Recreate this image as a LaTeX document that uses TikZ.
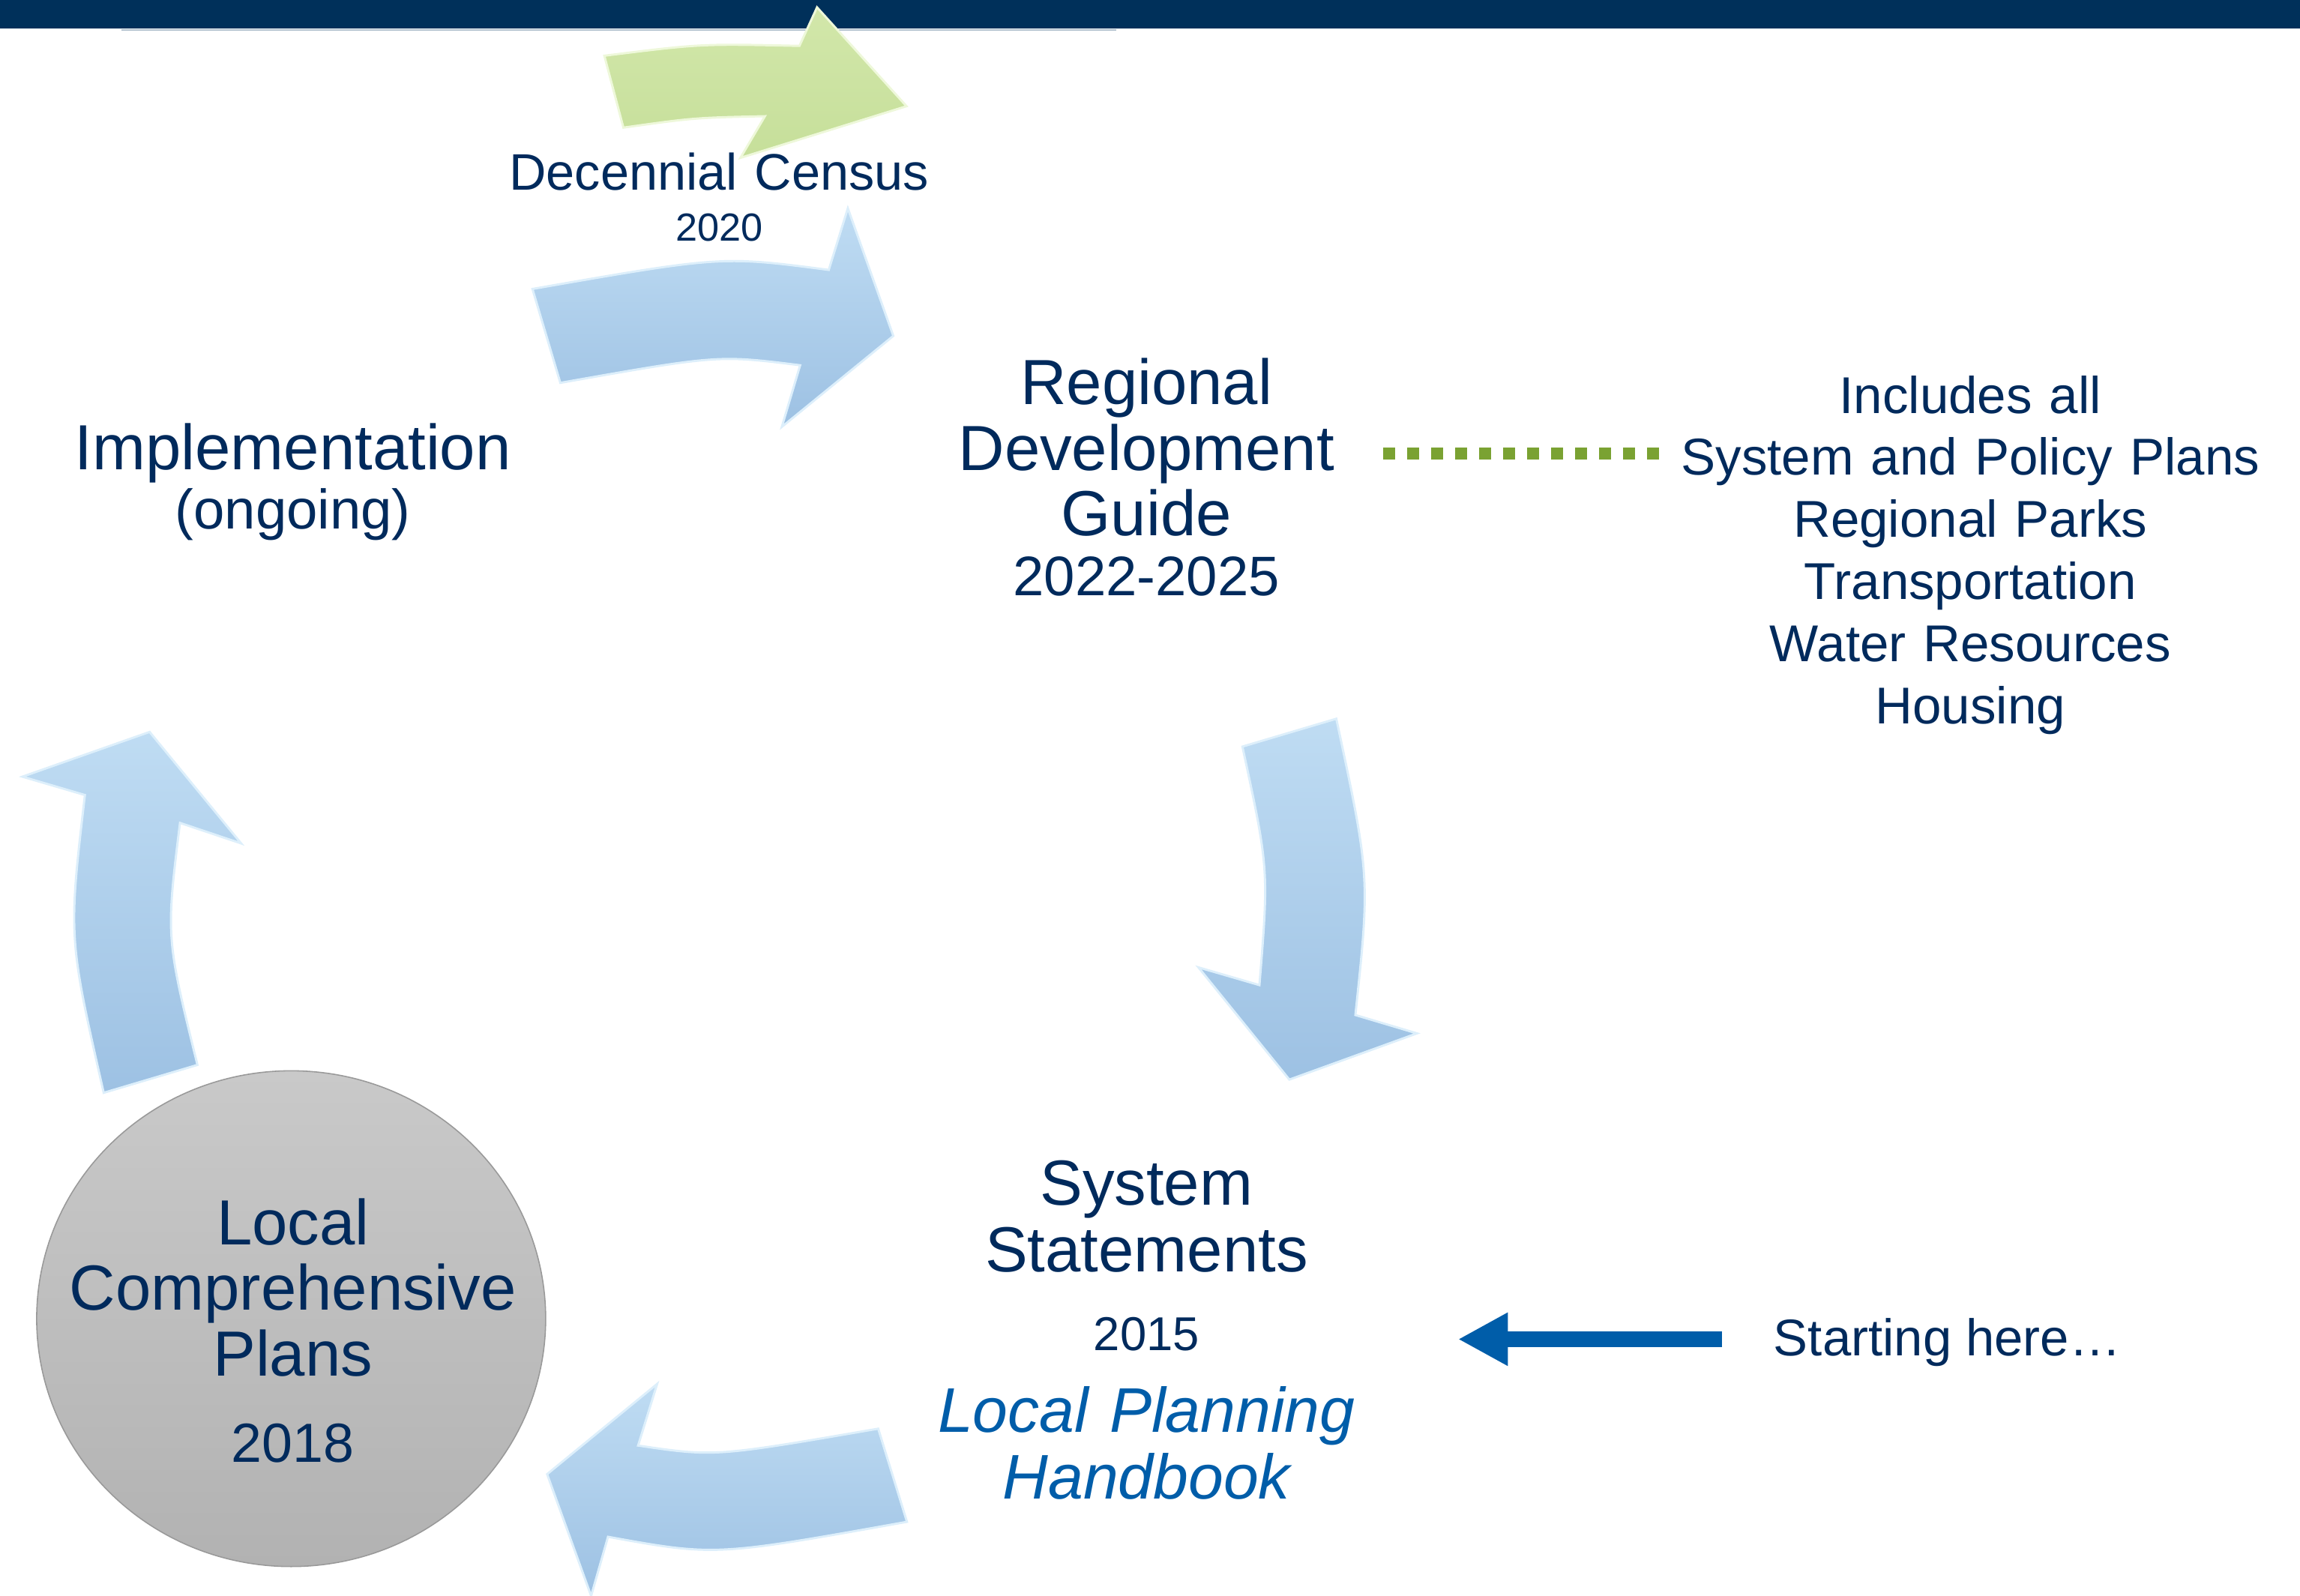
\documentclass[tikz,border=0pt]{standalone}
\usepackage{fontspec}
\setmainfont{Liberation Sans}
\usetikzlibrary{arrows.meta}
\definecolor{barra}{HTML}{00305A}
\definecolor{azulescuro}{HTML}{002A5C}
\definecolor{azulmedio}{HTML}{005DA9}
\definecolor{verdeponto}{HTML}{7AA232}
\definecolor{setaclara}{HTML}{BFDCF3}
\definecolor{setaescura}{HTML}{9DC1E3}
\definecolor{setaborda}{HTML}{DDEFFB}
\definecolor{verdeclaro}{HTML}{D2E7AA}
\definecolor{verdemedio}{HTML}{C6DF9A}
\definecolor{verdeborda}{HTML}{EEF8DA}
\definecolor{cinzaclaro}{HTML}{C9C9C9}
\definecolor{cinzaescuro}{HTML}{B2B2B2}
\definecolor{cinzaborda}{HTML}{999999}
\begin{document}
\begin{tikzpicture}[x=1pt, y=-1pt,
		setaciclo/.style={top color=setaclara, bottom color=setaescura, draw=setaborda, line width=1.5pt},
		setacenso/.style={top color=verdeclaro, bottom color=verdemedio, draw=verdeborda, line width=1.5pt},
		texto/.style={text=azulescuro, inner sep=0pt, align=center, text width=420pt, anchor=base},
		pontilhado/.style={verdeponto, line width=8.2pt, dash pattern=on 8.2pt off 8.15pt},
		setainicio/.style={azulmedio, line width=11pt, -{Triangle[length=34pt, width=34pt]}}] %Estilos do desenho
					%Fundo e barra
				\useasboundingbox (0,0) rectangle (1568,1088);
				\fill[white] (0,0) rectangle (1568,1088);
				\fill[barra] (0,0) rectangle (1568,19.6);
				\draw[barra!30, line width=1.2pt] (83,20.6) -- (761,20.6);
					%Setas do ciclo
				\path[setaciclo] (363,197) .. controls (492,174.5) .. (565,184) -- (578,142) -- (609,229) -- (533,291) -- (545.5,249) .. controls (489.5,242) .. (382,261) -- cycle; %Implementacao -> Guia
				\path[setaciclo] (847,509) -- (911,490) .. controls (934,597.7) .. (924,692) -- (966,704.5) -- (879,736) -- (817,659.5) -- (858.6,671.6) .. controls (865,592.5) .. (847,509) -- cycle; %Guia -> Sistema
				\path[setaciclo] (598.7,974) .. controls (487.3,993.2) .. (435,985.5) -- (448,943.5) -- (373,1005) -- (403,1088) -- (414.5,1047.7) .. controls (487.5,1060.9) .. (618.3,1037.5) -- cycle; %Sistema -> Planos
				\path[setaciclo] (70.7,745) -- (134.6,726) .. controls (113.1,638.8) .. (122.7,561) -- (164.4,575) -- (102,499) -- (15.3,529.5) -- (57.9,542) .. controls (46.6,638.8) .. (70.7,745) -- cycle; %Planos -> Implementacao
					%Seta do censo
				\path[setacenso] (412,38) .. controls (477.8,29.8) .. (545,31.3) -- (557,5) -- (618,72.4) -- (504.8,107.6) -- (521.5,79.2) .. controls (472.9,80.3) .. (425,87) -- cycle;
					%Circulo
				\path[top color=cinzaclaro, bottom color=cinzaescuro, draw=cinzaborda, line width=0.8pt] (198.5,899) ellipse [x radius=173.5pt, y radius=169pt];
					%Textos
				\node[texto, font=\fontsize{35}{35}\selectfont] (censo) at (490.2,129.5) {Decennial Census};
				\node[texto, font=\fontsize{26.7}{27}\selectfont] (censoano) at (490.2,164.3) {2020};
				\node[texto, font=\fontsize{43.5}{45}\selectfont] (implementacao) at (199.7,320.3) {Implementation};
				\node[texto, font=\fontsize{38}{40}\selectfont] (continua) at (199.7,360.7) {(ongoing)};
				\node[texto, font=\fontsize{43.5}{44.9}\selectfont] (guia) at (781.6,275.6) {Regional\\Development\\Guide};
				\node[texto, font=\fontsize{38}{40}\selectfont] (guiaano) at (781.6,405.8) {2022-2025};
				\node[texto, font=\fontsize{35.3}{42.4}\selectfont] (lista) at (1343.3,281.6) {Includes all\\System and Policy Plans\\Regional Parks\\Transportation\\Water Resources\\Housing};
				\node[texto, font=\fontsize{43.5}{45.2}\selectfont] (sistema) at (781.6,821.6) {System\\Statements};
				\node[texto, font=\fontsize{32.4}{34}\selectfont] (sistemaano) at (781.6,920.8) {2015};
				\node[texto, text=azulmedio, font=\fontsize{43}{45.4}\selectfont\itshape] (manual) at (781.6,976.3) {Local Planning\\Handbook};
				\node[texto, font=\fontsize{43.5}{44.75}\selectfont] (planos) at (199.7,848.5) {Local\\Comprehensive\\Plans};
				\node[texto, font=\fontsize{37.6}{40}\selectfont] (planosano) at (199.7,996.8) {2018};
				\node[text=azulescuro, inner sep=0pt, anchor=base west, font=\fontsize{35.2}{36}\selectfont] (inicio) at (1209,924.4) {Starting here…};
					%Ligacoes
				\coordinate (pontoguia) at (943,309);
				\coordinate (pontolista) at (1131,309);
				\draw[pontilhado] (pontoguia) -- (pontolista);
				\coordinate (iniciocauda) at (1174,913);
				\coordinate (inicioponta) at (994,913);
				\draw[setainicio] (iniciocauda) -- (inicioponta);
				
			\end{tikzpicture}
\end{document}
